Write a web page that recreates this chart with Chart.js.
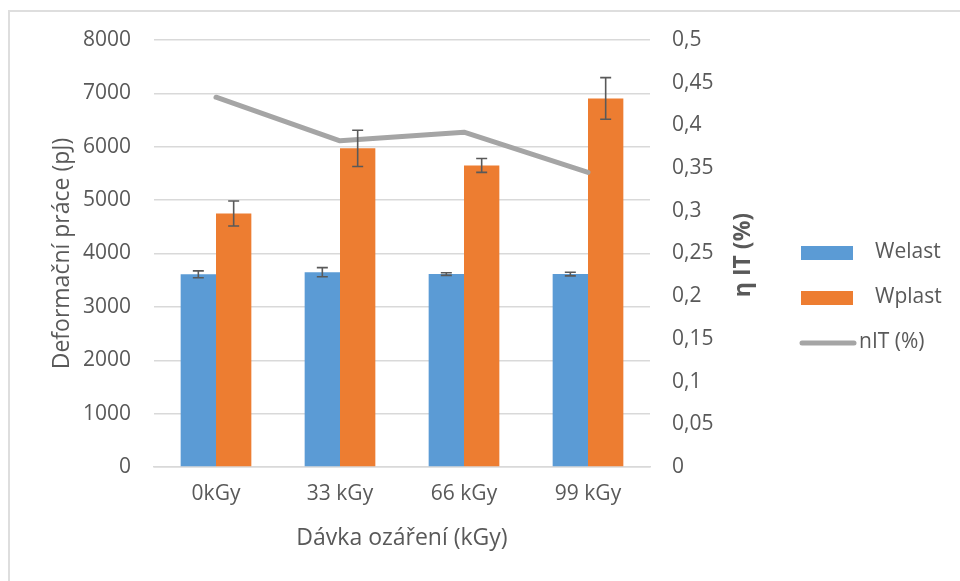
<!DOCTYPE html>
<html>
<head>
<meta charset="utf-8">
<script src="https://cdn.jsdelivr.net/npm/chart.js@4.4.1/dist/chart.umd.min.js"></script>
<style>
  html, body { margin: 0; padding: 0; background: #fff; overflow: hidden; }
  #frame {
    position: absolute; left: 8px; top: 10px; width: 1000px; height: 620px;
    border: 2px solid #dedede; box-sizing: border-box;
  }
  #wrap { position: absolute; left: 0; top: 0; width: 960px; height: 581px; }
</style>
</head>
<body>
<div id="frame"></div>
<div id="wrap"><canvas id="chart" width="960" height="581"></canvas></div>
<script>
// ── data ────────────────────────────────────────────────
const doses = ["0kGy", "33 kGy", "66 kGy", "99 kGy"];
const welast = [3610, 3650, 3615, 3615];
const welastErr = [65, 85, 25, 35];
const wplast = [4750, 5970, 5650, 6905];
const wplastErr = [235, 340, 130, 390];
const nIT = [0.433, 0.382, 0.392, 0.345];

const leftTicksMax = 8000;
const rightTicksMax = 0.5;

const textColor = "#595959";
const fontFamily = "'Open Sans', sans-serif";
const blue = "#5b9bd5";
const orange = "#ed7d31";
const gray = "#a5a5a5";

// error whiskers on the bar datasets
const errorBars = {
  id: "errorBars",
  afterDatasetsDraw(chart) {
    const { ctx } = chart;
    const yScale = chart.scales.y;
    const sets = [
      { idx: 1, vals: welast, errs: welastErr },
      { idx: 2, vals: wplast, errs: wplastErr },
    ];
    ctx.save();
    ctx.strokeStyle = "#595959";
    ctx.lineWidth = 1.6;
    sets.forEach(({ idx, vals, errs }) => {
      chart.getDatasetMeta(idx).data.forEach((bar, i) => {
        const top = yScale.getPixelForValue(vals[i] + errs[i]);
        const bot = yScale.getPixelForValue(vals[i] - errs[i]);
        const x = bar.x;
        ctx.beginPath();
        ctx.moveTo(x, top); ctx.lineTo(x, bot);
        ctx.moveTo(x - 5.5, top); ctx.lineTo(x + 5.5, top);
        ctx.moveTo(x - 5.5, bot); ctx.lineTo(x + 5.5, bot);
        ctx.stroke();
      });
    });
    ctx.restore();
  },
};

// right axis title (reads bottom-to-top) and the legend on the right
const sideDecor = {
  id: "sideDecor",
  afterDraw(chart) {
    const { ctx } = chart;
    ctx.save();
    ctx.fillStyle = textColor;
    ctx.font = "bold 23px " + fontFamily;
    ctx.textAlign = "center";
    ctx.textBaseline = "middle";
    ctx.translate(743, 255);
    ctx.rotate(-Math.PI / 2);
    ctx.fillText("η IT (%)", 0, 0);
    ctx.restore();

    ctx.save();
    ctx.font = "21px " + fontFamily;
    ctx.textBaseline = "middle";
    ctx.fillStyle = blue;
    ctx.fillRect(801, 246, 52, 14);
    ctx.fillStyle = orange;
    ctx.fillRect(801, 291, 52, 14);
    ctx.strokeStyle = gray;
    ctx.lineWidth = 5;
    ctx.lineCap = "round";
    ctx.beginPath();
    ctx.moveTo(802, 343); ctx.lineTo(854, 343);
    ctx.stroke();
    ctx.fillStyle = textColor;
    ctx.fillText("Welast", 875, 252);
    ctx.fillText("Wplast", 875, 297);
    ctx.fillText("nIT (%)", 859, 342);
    ctx.restore();
  },
};

new Chart(document.getElementById("chart"), {
  data: {
    labels: doses,
    datasets: [
      {
        type: "line",
        label: "nIT (%)",
        data: nIT,
        yAxisID: "y1",
        borderColor: gray,
        borderWidth: 5,
        borderCapStyle: "round",
        borderJoinStyle: "round",
        pointRadius: 0,
        tension: 0,
        order: 0,
      },
      {
        type: "bar",
        label: "Welast",
        data: welast,
        yAxisID: "y",
        backgroundColor: blue,
        borderWidth: 0,
        order: 1,
      },
      {
        type: "bar",
        label: "Wplast",
        data: wplast,
        yAxisID: "y",
        backgroundColor: orange,
        borderWidth: 0,
        order: 1,
      },
    ],
  },
  options: {
    responsive: false,
    animation: false,
    layout: { padding: { top: 40, left: 0, right: 0, bottom: 0 } },
    datasets: { bar: { categoryPercentage: 0.57, barPercentage: 1 } },
    plugins: { legend: { display: false }, tooltip: { enabled: false } },
    scales: {
      x: {
        afterFit: (s) => { s.height = 114; },
        grid: { display: false, drawTicks: false },
        border: { display: true, color: "#d9d9d9", width: 1.5 },
        ticks: { color: textColor, font: { family: fontFamily, size: 21 }, padding: 14 },
        title: {
          display: true,
          text: "Dávka ozáření (kGy)",
          color: textColor,
          font: { family: fontFamily, size: 23 },
          padding: { top: 0, bottom: 29 },
        },
      },
      y: {
        position: "left",
        min: 0,
        max: leftTicksMax,
        afterFit: (s) => { s.width = 154; },
        grid: { color: "#d9d9d9", lineWidth: 1.5, drawTicks: false },
        border: { display: false },
        ticks: {
          stepSize: 1000,
          color: textColor,
          font: { family: fontFamily, size: 21 },
          padding: 23,
          callback: (v) => String(v),
        },
        title: {
          display: true,
          text: "Deformační práce (pJ)",
          color: textColor,
          font: { family: fontFamily, size: 23 },
          padding: { top: 49, bottom: 0 },
        },
      },
      y1: {
        position: "right",
        min: 0,
        max: rightTicksMax,
        afterFit: (s) => { s.width = 310; },
        grid: { display: false, drawTicks: false },
        border: { display: false },
        ticks: {
          stepSize: 0.05,
          color: textColor,
          font: { family: fontFamily, size: 21 },
          padding: 22,
          callback: (v) => String(Math.round(v * 100) / 100).replace(".", ","),
        },
      },
    },
  },
  plugins: [errorBars, sideDecor],
});
</script>
</body>
</html>
